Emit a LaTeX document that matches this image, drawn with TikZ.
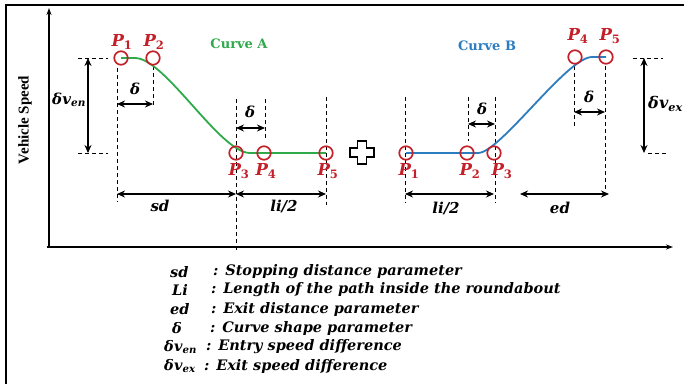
\documentclass[tikz,border=0pt]{standalone}
\usepackage{fontspec}
\setmainfont{DejaVu Serif}
\newfontfamily\vsfont{Liberation Serif}
\usetikzlibrary{arrows.meta}
\definecolor{pred}{RGB}{196,32,42}
\definecolor{cgreen}{RGB}{46,170,74}
\definecolor{cblue}{RGB}{44,124,192}
\newcommand\Pl[1]{P\textsubscript{\upshape #1}}
\newcommand\dvx[1]{δ\kern0.3pt v\textsubscript{#1}}
\begin{document}
\begin{tikzpicture}[x=1pt,y=-1pt,
  dsh/.style={dash pattern=on 4pt off 3pt, line width=0.9pt},
  dimarrow/.style={line width=1.3pt,{Stealth[length=8pt,width=7pt]}-{Stealth[length=8pt,width=7pt]}},
  axis/.style={line width=1.2pt,-{Stealth[length=7pt,width=5pt]}},
  pc/.style={circle,draw=pred,line width=1.7pt,minimum size=13.5pt,inner sep=0pt},
  plab/.style={text=pred,font=\fontsize{16.5}{16.5}\selectfont\bfseries\itshape,inner sep=0pt},
  lab/.style={font=\fontsize{15}{15}\selectfont\bfseries\itshape,inner sep=0pt},
  leg/.style={font=\fontsize{14.5}{14.5}\selectfont\bfseries\itshape,inner sep=0pt,anchor=west},
  ctitle/.style={font=\fontsize{13}{13}\selectfont\bfseries,inner sep=0pt},
  curve/.style={line width=1.8pt}]
\fill[white] (0,0) rectangle (684,383);
\useasboundingbox (0,0) rectangle (684,383);
% frame
\draw[line width=2.8pt] (6,390) -- (6,5) -- (690,5);
% axes
\coordinate (o) at (49,247);
\coordinate (ytop) at (49,8);
\coordinate (xend) at (673,247);
\draw[axis] (o) -- (ytop);
\draw[axis] (47,247) -- (xend);
\node[font=\vsfont\fontsize{15}{15}\selectfont\bfseries,inner sep=0pt,rotate=90] (vs) at (25,120) {Vehicle Speed};

% ---------- Curve A ----------
\node[ctitle,text=cgreen] (ca) at (239,44) {Curve A};
\coordinate (a1) at (121,58);
\coordinate (a2) at (153,58);
\coordinate (a3) at (236,153);
\coordinate (a4) at (264,153);
\coordinate (a5) at (326,153);
% dashed guides
\draw[dsh] (78,58) -- (108,58);
\draw[dsh] (78,153) -- (108,153);
\coordinate (enT) at (88,58);
\coordinate (enB) at (88,153);
\draw[dimarrow] (enT) -- (enB);
\node[lab] (den) at (69,100) {\dvx{en}};
\draw[dsh] (117,68) -- (117,202);
\draw[dsh] (153,66) -- (153,106);
\coordinate (d1L) at (117,104);
\coordinate (d1R) at (153,104);
\draw[dimarrow] (d1L) -- (d1R);
\node[lab] (dl1) at (135,89) {δ};
\draw[dsh] (236,99) -- (236,250);
\draw[dsh] (265,99) -- (265,140);
\coordinate (d2L) at (236,128);
\coordinate (d2R) at (265,128);
\draw[dimarrow] (d2L) -- (d2R);
\node[lab] (dl2) at (250,112) {δ};
\draw[dsh] (326,97) -- (326,205);
\coordinate (sdL) at (117,194);
\coordinate (sdR) at (236,194);
\coordinate (liR) at (326,194);
\draw[dimarrow] (sdL) -- (sdR);
\draw[dimarrow] (sdR) -- (liR);
\node[lab] (sd) at (160,206) {sd};
\node[lab] (li1) at (284,206) {li/2};
\draw[curve,cgreen] (a1) -- (135,58) .. controls (165,58) and (220,153) .. (250,153) -- (a5);
\node[pc] (pa1) at (a1) {};
\node[pc] (pa2) at (a2) {};
\node[pc] (pa3) at (a3) {};
\node[pc] (pa4) at (a4) {};
\node[pc] (pa5) at (a5) {};
\node[plab] (la1) at (122,42) {\Pl1};
\node[plab] (la2) at (154,42) {\Pl2};
\node[plab] (la3) at (239,171) {\Pl3};
\node[plab] (la4) at (266,171) {\Pl4};
\node[plab] (la5) at (328,171) {\Pl5};

% plus sign
\draw[line width=1.4pt] (357.5,141) -- (366.5,141) -- (366.5,148) -- (374,148) -- (374,157) -- (366.5,157) -- (366.5,164) -- (357.5,164) -- (357.5,157) -- (350,157) -- (350,148) -- (357.5,148) -- cycle;

% ---------- Curve B ----------
\node[ctitle,text=cblue] (cb) at (487,46) {Curve B};
\coordinate (b1) at (406,153);
\coordinate (b2) at (467,153);
\coordinate (b3) at (494,153);
\coordinate (b4) at (575,57);
\coordinate (b5) at (606,57);
\draw[dsh] (405,97) -- (405,203);
\draw[dsh] (468,97) -- (468,141);
\draw[dsh] (495,97) -- (495,203);
\coordinate (e1L) at (468,124);
\coordinate (e1R) at (495,124);
\draw[dimarrow] (e1L) -- (e1R);
\node[lab] (dl3) at (482,109) {δ};
\draw[dsh] (574,66) -- (574,128);
\draw[dsh] (605,66) -- (605,191);
\coordinate (e2L) at (574,112);
\coordinate (e2R) at (605,112);
\draw[dimarrow] (e2L) -- (e2R);
\node[lab] (dl4) at (589,97) {δ};
\coordinate (liBL) at (405,194);
\coordinate (liBR) at (494,194);
\draw[dimarrow] (liBL) -- (liBR);
\node[lab] (li2) at (446,208) {li/2};
\coordinate (edL) at (520,194);
\coordinate (edR) at (609,194);
\draw[dimarrow] (edL) -- (edR);
\node[lab] (ed) at (560,208) {ed};
\draw[dsh] (633,58) -- (663,58);
\draw[dsh] (648,153) -- (668,153);
\coordinate (exT) at (644,58);
\coordinate (exB) at (644,153);
\draw[dimarrow] (exT) -- (exB);
\node[lab,anchor=west,font=\fontsize{16}{16}\selectfont\bfseries\itshape] (dex) at (648,104) {\dvx{ex}};
\draw[curve,cblue] (b1) -- (478,153) .. controls (500,153) and (567,57) .. (592,57) -- (b5);
\node[pc] (pb1) at (b1) {};
\node[pc] (pb2) at (b2) {};
\node[pc] (pb3) at (b3) {};
\node[pc] (pb4) at (b4) {};
\node[pc] (pb5) at (b5) {};
\node[plab] (lb1) at (409,171) {\Pl1};
\node[plab] (lb2) at (470,171) {\Pl2};
\node[plab] (lb3) at (502,171) {\Pl3};
\node[plab] (lb4) at (578,36) {\Pl4};
\node[plab] (lb5) at (610,36) {\Pl5};

% ---------- legend ----------
\node[leg] (k1) at (170,272) {sd};
\node[leg] (t1) at (213,272) {: Stopping distance parameter};
\node[leg] (k2) at (172,290) {Li};
\node[leg] (t2) at (211,290) {: Length of the path inside the roundabout};
\node[leg] (k3) at (170,309) {ed};
\node[leg] (t3) at (211,309) {: Exit distance parameter};
\node[leg] (k4) at (172,328) {δ};
\node[leg] (t4) at (210,328) {: Curve shape parameter};
\node[leg] (k5) at (164,347) {\dvx{en}};
\node[leg] (t5) at (206,347) {: Entry speed difference};
\node[leg] (k6) at (164,366) {\dvx{ex}};
\node[leg] (t6) at (204,366) {: Exit speed difference};
\end{tikzpicture}
\end{document}
